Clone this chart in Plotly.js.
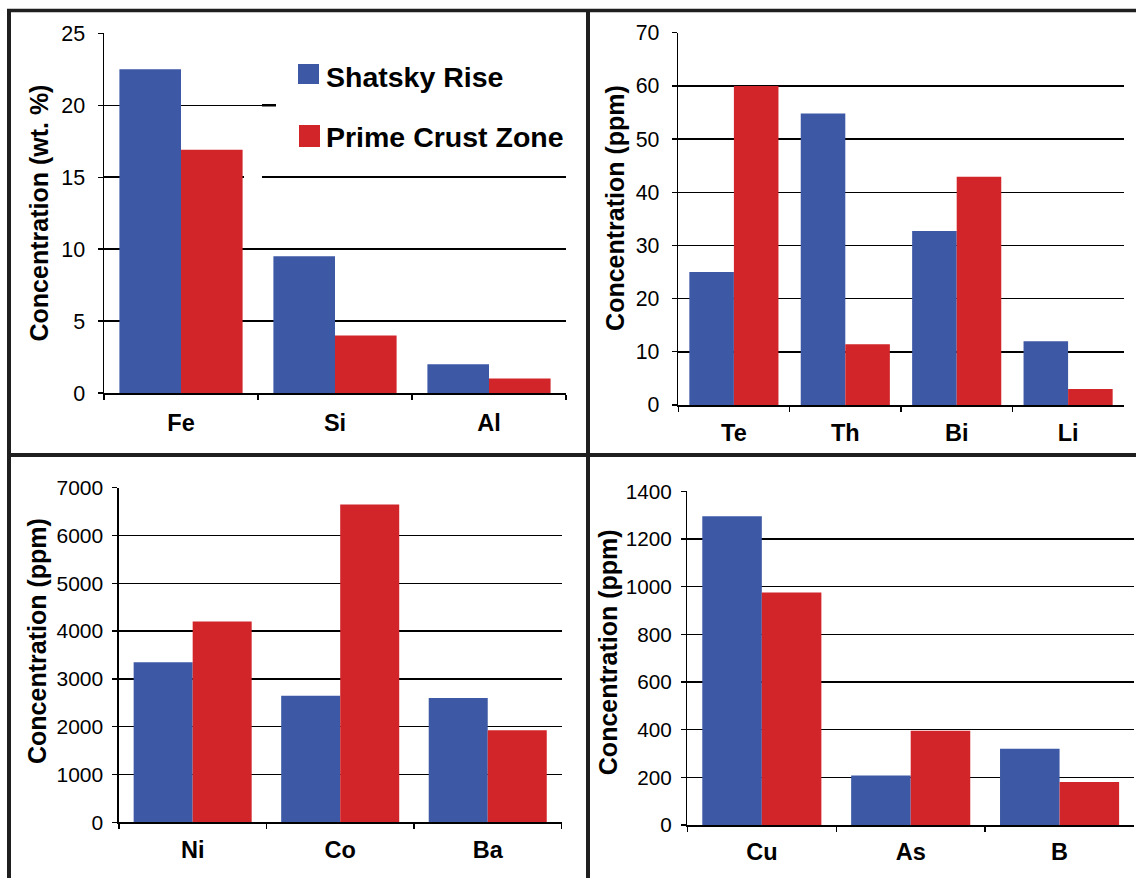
<!DOCTYPE html>
<html>
<head>
<meta charset="utf-8">
<script src="https://cdn.plot.ly/plotly-3.0.1.min.js"></script>
<style>
  html, body { margin: 0; padding: 0; background: #ffffff; }
  #chart { width: 1136px; height: 878px; }
</style>
</head>
<body>
<div id="chart"></div>
<script>
// Major elements (wt. %)
const majorElements = ['Fe', 'Si', 'Al'];
const majorShatsky = [22.5, 9.5, 2.0];
const majorPrime = [16.9, 4.0, 1.0];

// Trace elements, low range (ppm)
const traceLowElements = ['Te', 'Th', 'Bi', 'Li'];
const traceLowShatsky = [25.0, 54.8, 32.7, 12.0];
const traceLowPrime = [60.0, 11.4, 42.9, 3.0];

// Trace elements, high range (ppm)
const traceHighElements = ['Ni', 'Co', 'Ba'];
const traceHighShatsky = [3350, 2650, 2600];
const traceHighPrime = [4200, 6650, 1925];

// Trace elements, mid range (ppm)
const traceMidElements = ['Cu', 'As', 'B'];
const traceMidShatsky = [1295, 208, 320];
const traceMidPrime = [975, 395, 180];

const seriesNames = ['Shatsky Rise', 'Prime Crust Zone'];

const W = 1136, H = 878;
const BLUE = '#3D59A6';
const RED = '#D2252A';
const INK = '#000000';
const BORDER = '#1f1f1f';
const FONT = 'Liberation Sans, Arial, Helvetica, sans-serif';

// pixel -> paper helpers
const px = x => x / W;
const py = y => 1 - y / H;

function barPair(cats, a, b, xa, ya) {
  return [
    { type: 'bar', name: seriesNames[0], x: cats, y: a, xaxis: xa, yaxis: ya,
      marker: { color: BLUE, line: { width: 0 } }, showlegend: false },
    { type: 'bar', name: seriesNames[1], x: cats, y: b, xaxis: xa, yaxis: ya,
      marker: { color: RED, line: { width: 0 } }, showlegend: false }
  ];
}

const data = [].concat(
  barPair(majorElements, majorShatsky, majorPrime, 'x', 'y'),
  barPair(traceLowElements, traceLowShatsky, traceLowPrime, 'x2', 'y2'),
  barPair(traceHighElements, traceHighShatsky, traceHighPrime, 'x3', 'y3'),
  barPair(traceMidElements, traceMidShatsky, traceMidPrime, 'x4', 'y4')
);

function xAxis(x0, x1, anchor, size, standoff) {
  return {
    type: 'category',
    domain: [px(x0), px(x1)],
    anchor: anchor,
    showline: true, linecolor: INK, linewidth: 1.5,
    ticks: 'outside', tickson: 'boundaries', ticklen: 5, tickwidth: 1.3, tickcolor: INK,
    showgrid: false, zeroline: false,
    ticklabelstandoff: standoff,
    tickfont: { family: FONT, size: size, color: INK, weight: 700 },
    fixedrange: true
  };
}

function yAxis(yTop, yBot, anchor, max, step, size, standoff) {
  return {
    domain: [py(yBot), py(yTop)],
    anchor: anchor,
    range: [0, max], dtick: step, tick0: 0, tickformat: 'd',
    showline: true, linecolor: INK, linewidth: 1.5,
    ticks: 'outside', ticklen: 5, tickwidth: 1.3, tickcolor: INK,
    showgrid: true, gridcolor: INK, gridwidth: 1.4,
    zeroline: false,
    ticklabelstandoff: standoff,
    tickfont: { family: FONT, size: size, color: INK },
    fixedrange: true
  };
}

function yTitle(text, x, y) {
  return {
    text: text, xref: 'paper', yref: 'paper', x: px(x), y: py(y),
    xanchor: 'center', yanchor: 'middle', textangle: -90, showarrow: false,
    font: { family: FONT, size: 25, color: INK, weight: 700 }
  };
}

function legendText(text, x, y) {
  return {
    text: text, xref: 'paper', yref: 'paper', x: px(x), y: py(y),
    xanchor: 'left', yanchor: 'middle', showarrow: false,
    font: { family: FONT, size: 28.5, color: INK, weight: 700 }
  };
}

function hline(x0, x1, y, w) {
  return { type: 'line', xref: 'paper', yref: 'paper', x0: px(x0), x1: px(x1), y0: py(y), y1: py(y),
           line: { color: BORDER, width: w }, layer: 'above' };
}
function vline(x, y0, y1, w) {
  return { type: 'line', xref: 'paper', yref: 'paper', x0: px(x), x1: px(x), y0: py(y0), y1: py(y1),
           line: { color: BORDER, width: w }, layer: 'above' };
}

const layout = {
  width: W, height: H,
  margin: { l: 0, r: 0, t: 0, b: 0, pad: 0 },
  paper_bgcolor: '#ffffff', plot_bgcolor: '#ffffff',
  barmode: 'group', bargap: 0.2, bargroupgap: 0,
  showlegend: false,
  font: { family: FONT, color: INK },

  xaxis: xAxis(104, 566, 'y', 23.5, 8),
  yaxis: yAxis(33.3, 393, 'x', 25, 5, 21.5, 8),

  xaxis2: xAxis(678.2, 1123.8, 'y2', 23.5, 6),
  yaxis2: yAxis(32.7, 405, 'x2', 70, 10, 21.3, 8),

  xaxis3: xAxis(118.9, 561.5, 'y3', 23.5, 6),
  yaxis3: yAxis(487.7, 822.3, 'x3', 7000, 1000, 21, 5),

  xaxis4: xAxis(687.4, 1134, 'y4', 23.5, 5),
  yaxis4: yAxis(491.3, 825, 'x4', 1400, 200, 20.7, 5),

  annotations: [
    yTitle('Concentration (wt. %)', 38, 213.5),
    yTitle('Concentration (ppm)', 614.4, 207.5),
    yTitle('Concentration (ppm)', 36.5, 641.5),
    yTitle('Concentration (ppm)', 607.7, 652.5),
    legendText(seriesNames[0], 324, 76.5),
    legendText(seriesNames[1], 324, 137)
  ],

  shapes: [
    // legend backdrop over the first panel's gridlines
    { type: 'rect', xref: 'paper', yref: 'paper', x0: px(276), x1: px(580), y0: py(165), y1: py(45),
      fillcolor: '#ffffff', line: { width: 0 }, layer: 'above' },
    { type: 'rect', xref: 'paper', yref: 'y', x0: px(244), x1: px(262), y0: 14.5, y1: 15.5,
      fillcolor: '#ffffff', line: { width: 0 }, layer: 'above' },
    { type: 'line', xref: 'paper', yref: 'y', x0: px(262), x1: px(276), y0: 20, y1: 20,
      line: { color: INK, width: 2.6 }, layer: 'above' },
    // legend swatches
    { type: 'rect', xref: 'paper', yref: 'paper', x0: px(298), x1: px(319), y0: py(84), y1: py(64),
      fillcolor: BLUE, line: { width: 0 }, layer: 'above' },
    { type: 'rect', xref: 'paper', yref: 'paper', x0: px(299), x1: px(320), y0: py(147), y1: py(125),
      fillcolor: RED, line: { width: 0 }, layer: 'above' },
    // panel frames
    hline(7, W, 10.5, 3.5),
    hline(7, W, 455, 4),
    vline(9, 9, H, 4),
    vline(588, 9, H, 4)
  ]
};

Plotly.newPlot('chart', data, layout, { staticPlot: true, displayModeBar: false });
</script>
</body>
</html>
